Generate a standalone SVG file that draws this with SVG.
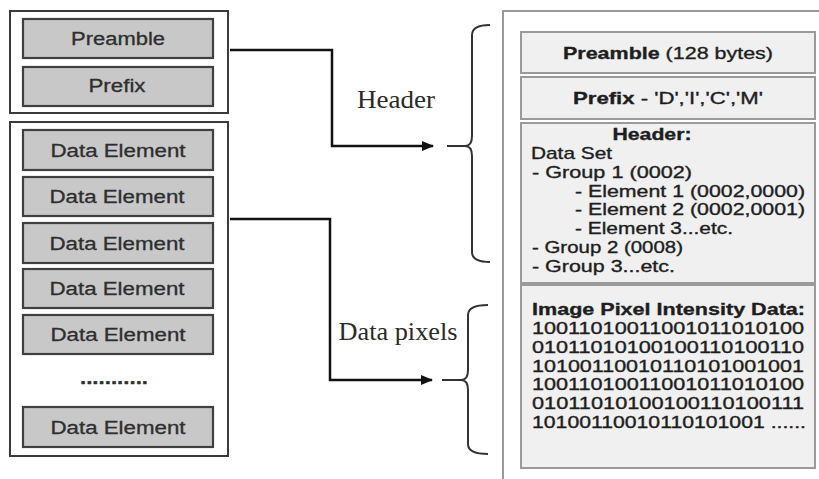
<svg xmlns="http://www.w3.org/2000/svg" width="819" height="479" viewBox="0 0 819 479">
<defs>
<style>
.outer{fill:#fff;stroke:#3a3a3a;stroke-width:2}
.blk{fill:#c8c8c8;stroke:#404040;stroke-width:2.2}
.lt{font-family:"Liberation Sans",Arial,sans-serif;font-size:18px;fill:#2e2e2e;stroke:#2e2e2e;stroke-width:0.3;text-anchor:middle}
.rbox{fill:#f0f0f0;stroke:#9a9a9a;stroke-width:2}
.rt{font-family:"Liberation Sans",Arial,sans-serif;font-size:17px;fill:#1e1e1e;stroke:#1e1e1e;stroke-width:0.35}
.b{font-weight:bold}
.ser{font-family:"Liberation Serif","Times New Roman",serif;font-size:25px;fill:#2a2a2a;text-anchor:middle}
.conn{fill:none;stroke:#111;stroke-width:2.5}
.brace{fill:none;stroke:#333;stroke-width:2}
</style>
<marker id="arr" markerWidth="12" markerHeight="10" refX="11" refY="5" orient="auto" markerUnits="userSpaceOnUse">
<path d="M0,0 L12,5 L0,10 Z" fill="#111"/>
</marker>
</defs>
<rect width="819" height="479" fill="#fff"/>

<g id="left-header">
<rect class="outer" x="10" y="11" width="218" height="102"/>
<g id="preamble">
<rect class="blk" x="23" y="19" width="190" height="39"/>
<text class="lt" x="118" y="45" textLength="94" lengthAdjust="spacingAndGlyphs">Preamble</text>
</g>
<g id="prefix">
<rect class="blk" x="23" y="67" width="190" height="39"/>
<text class="lt" x="117" y="92" textLength="57" lengthAdjust="spacingAndGlyphs">Prefix</text>
</g>
</g>

<g id="left-data">
<rect class="outer" x="10" y="122" width="218" height="334"/>
<g id="de1"><rect class="blk" x="23" y="130" width="190" height="40"/><text class="lt" x="118" y="157" textLength="135" lengthAdjust="spacingAndGlyphs">Data Element</text></g>
<g id="de2"><rect class="blk" x="23" y="177" width="190" height="39"/><text class="lt" x="117" y="203" textLength="135" lengthAdjust="spacingAndGlyphs">Data Element</text></g>
<g id="de3"><rect class="blk" x="23" y="223" width="190" height="40"/><text class="lt" x="117" y="250" textLength="135" lengthAdjust="spacingAndGlyphs">Data Element</text></g>
<g id="de4"><rect class="blk" x="23" y="269" width="190" height="39"/><text class="lt" x="117" y="295" textLength="135" lengthAdjust="spacingAndGlyphs">Data Element</text></g>
<g id="de5"><rect class="blk" x="23" y="315" width="190" height="39"/><text class="lt" x="118" y="341" textLength="135" lengthAdjust="spacingAndGlyphs">Data Element</text></g>
<g id="dots"><text class="lt b" x="114" y="384" textLength="68" lengthAdjust="spacingAndGlyphs">...........</text></g>
<g id="de6"><rect class="blk" x="23" y="407" width="190" height="40"/><text class="lt" x="118" y="434" textLength="135" lengthAdjust="spacingAndGlyphs">Data Element</text></g>
</g>

<g id="connectors">
<path class="conn" d="M230,50 H332 V146 H433" marker-end="url(#arr)"/>
<path class="conn" d="M230,219 H330 V380 H432" marker-end="url(#arr)"/>
<path class="brace" d="M490,25 Q472,25 472,35 V136 Q472,146 465,146 Q472,146 472,156 V252 Q472,262 490,262"/>
<line class="brace" x1="447" y1="146" x2="468" y2="146"/>
<path class="brace" d="M488,305 Q468,305 468,315 V370 Q468,380 461,380 Q468,380 468,390 V444 Q468,454 488,454"/>
<line class="brace" x1="442" y1="380" x2="464" y2="380"/>
</g>

<g id="label-header"><text class="ser" x="396" y="108" textLength="78" lengthAdjust="spacingAndGlyphs">Header</text></g>
<g id="label-data"><text class="ser" x="398" y="340" textLength="119" lengthAdjust="spacingAndGlyphs">Data pixels</text></g>

<g id="right-panel">
<rect x="503" y="11" width="330" height="480" fill="#fff" stroke="#9a9a9a" stroke-width="2"/>
<g id="r-preamble">
<rect class="rbox" x="521" y="32" width="294" height="41"/>
<text class="rt" x="668" y="59" text-anchor="middle" textLength="210" lengthAdjust="spacingAndGlyphs"><tspan class="b">Preamble</tspan> (128 bytes)</text>
</g>
<g id="r-prefix">
<rect class="rbox" x="521" y="77" width="294" height="42"/>
<text class="rt" x="668" y="104" text-anchor="middle" textLength="190" lengthAdjust="spacingAndGlyphs"><tspan class="b">Prefix</tspan> - 'D','I','C','M'</text>
</g>
<g id="r-header">
<rect class="rbox" x="521" y="123" width="294" height="160"/>
<text class="rt b" x="652" y="140" text-anchor="middle" textLength="79" lengthAdjust="spacingAndGlyphs">Header:</text>
<text class="rt" x="531" y="159" textLength="81" lengthAdjust="spacingAndGlyphs">Data Set</text>
<text class="rt" x="532" y="178" textLength="160" lengthAdjust="spacingAndGlyphs">- Group 1 (0002)</text>
<text class="rt" x="575" y="197" textLength="230" lengthAdjust="spacingAndGlyphs">- Element 1 (0002,0000)</text>
<text class="rt" x="575" y="215" textLength="230" lengthAdjust="spacingAndGlyphs">- Element 2 (0002,0001)</text>
<text class="rt" x="575" y="234" textLength="158" lengthAdjust="spacingAndGlyphs">- Element 3...etc.</text>
<text class="rt" x="532" y="253" textLength="151" lengthAdjust="spacingAndGlyphs">- Group 2 (0008)</text>
<text class="rt" x="532" y="272" textLength="143" lengthAdjust="spacingAndGlyphs">- Group 3...etc.</text>
</g>
<g id="r-pixels">
<rect class="rbox" x="521" y="285" width="294" height="183"/>
<text class="rt b" x="532" y="315" textLength="273" lengthAdjust="spacingAndGlyphs">Image Pixel Intensity Data:</text>
<text class="rt" x="532" y="334" textLength="272" lengthAdjust="spacingAndGlyphs">10011010011001011010100</text>
<text class="rt" x="532" y="353" textLength="272" lengthAdjust="spacingAndGlyphs">01011010100100110100110</text>
<text class="rt" x="532" y="372" textLength="272" lengthAdjust="spacingAndGlyphs">10100110010110101001001</text>
<text class="rt" x="532" y="390" textLength="272" lengthAdjust="spacingAndGlyphs">10011010011001011010100</text>
<text class="rt" x="532" y="409" textLength="272" lengthAdjust="spacingAndGlyphs">01011010100100110100111</text>
<text class="rt" x="532" y="428" textLength="274" lengthAdjust="spacingAndGlyphs">10100110010110101001 ......</text>
</g>
</g>
</svg>
